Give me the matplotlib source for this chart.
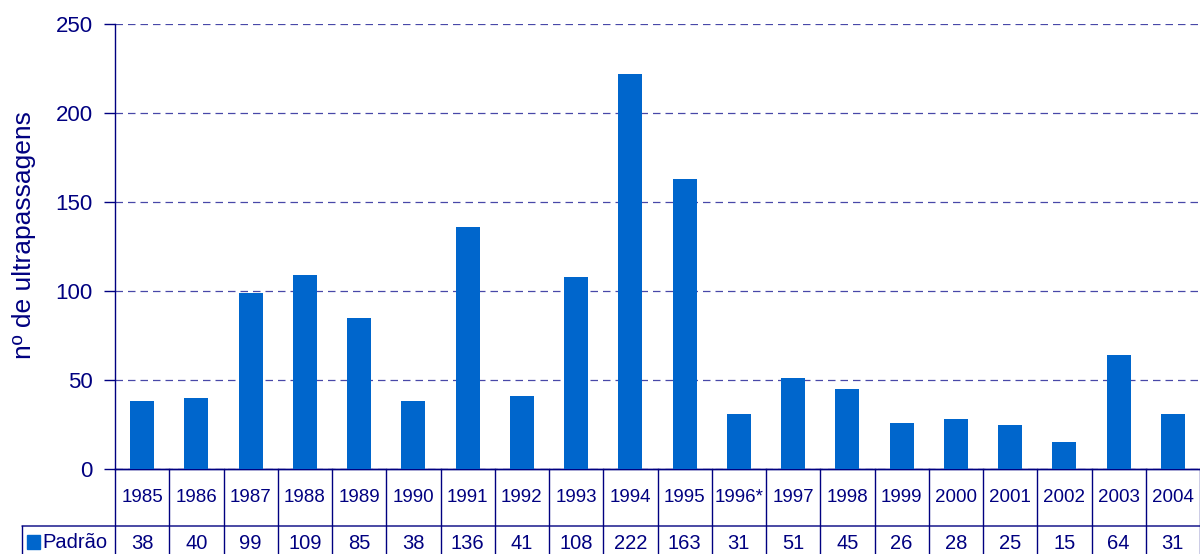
import matplotlib.pyplot as plt
import numpy as np

plt.rcParams['font.family'] = ['Liberation Sans', 'DejaVu Sans']

years = ['1985', '1986', '1987', '1988', '1989', '1990', '1991', '1992', '1993', '1994',
         '1995', '1996*', '1997', '1998', '1999', '2000', '2001', '2002', '2003', '2004']
padrao = [38, 40, 99, 109, 85, 38, 136, 41, 108, 222, 163, 31, 51, 45, 26, 28, 25, 15, 64, 31]
series_name = 'Padrão'

navy = '#000080'
blue = '#0066CC'

fig = plt.figure(figsize=(12, 5.54), dpi=100)
ax = fig.add_axes([115/1200, 1 - 469/554, 1085/1200, 445/554])

x = np.arange(len(years))
ax.bar(x, padrao, width=0.44, color=blue, zorder=3)

ax.set_xlim(-0.5, len(years) - 0.5)
ax.set_ylim(0, 250)
ax.set_yticks(np.arange(0, 251, 50))
ax.yaxis.grid(True, linestyle=(0, (6, 4)), color='#4848a8', linewidth=0.9, zorder=0)
ax.tick_params(axis='y', colors=navy, labelcolor=navy, labelsize=16, length=8, width=1, pad=8)
ax.set_xticks([])
for s in ['top', 'right']:
    ax.spines[s].set_visible(False)
for s in ['left', 'bottom']:
    ax.spines[s].set_color(navy)
    ax.spines[s].set_linewidth(1)
ax.set_ylabel('nº de ultrapassagens', color=navy, fontsize=19)
ax.yaxis.set_label_coords(-0.073, 0.525)

# data table under the chart
tr = ax.get_xaxis_transform()
row1 = -57/445
row2 = -85/445
for i in range(len(years) + 1):
    ax.plot([i - 0.5, i - 0.5], [0, row2], transform=tr, color=navy, lw=1, clip_on=False)
ax.plot([-0.5, len(years) - 0.5], [0, 0], transform=tr, color=navy, lw=1, clip_on=False)
# row separator extends to the legend box on the left
ax.annotate('', xy=(len(years) - 0.5, row1), xycoords=tr,
            xytext=(22/1200, 1 - 526/554), textcoords='figure fraction',
            arrowprops=dict(arrowstyle='-', color=navy, lw=1, shrinkA=0, shrinkB=0))
fig.add_artist(plt.Line2D([22/1200, 22/1200], [1 - 526/554, 0], color=navy, lw=1))

for i, (yr, v) in enumerate(zip(years, padrao)):
    ax.text(i, row1 / 2, yr, transform=tr, ha='center', va='center', color=navy,
            fontsize=13.5)
    ax.text(i, (row1 + row2) / 2 - 0.008, str(v), transform=tr, ha='center', va='center',
            color=navy, fontsize=14.5)

fig.patches.append(plt.Rectangle((27/1200, 1 - 549/554), 13/1200, 14/554,
                                 transform=fig.transFigure, color=blue))
fig.text(42/1200, 1 - 542/554, series_name, color=navy, fontsize=14.5, va='center', ha='left')

fig.savefig('out.png', dpi=100)
